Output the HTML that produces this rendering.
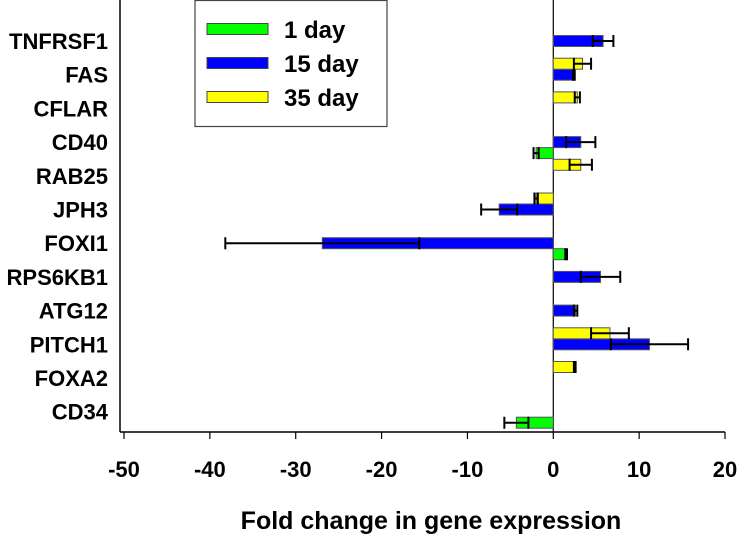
<!DOCTYPE html>
<html><head><meta charset="utf-8"><style>
body{margin:0;background:#fff;}
svg text{font-family:"Liberation Sans",Arial,sans-serif;font-weight:bold;fill:#000;}
</style></head><body>
<svg id="chart" width="738" height="542">
<g id="plot"></g>
</svg>
<script>
const categories=["TNFRSF1","FAS","CFLAR","CD40","RAB25","JPH3","FOXI1","RPS6KB1","ATG12","PITCH1","FOXA2","CD34"];
const seriesNames=["1 day","15 day","35 day"];
const day1=[null,null,null,-2.0,null,null,1.5,null,null,null,null,-4.3];
const day1Err=[0,0,0,0.3,0,0,0.1,0,0,0,0,1.4];
const day15=[5.8,2.4,null,3.2,null,-6.3,-26.9,5.5,2.6,11.2,null,null];
const day15Err=[1.2,0.1,0,1.7,0,2.1,11.3,2.3,0.2,4.5,0,0];
const day35=[null,3.4,2.8,null,3.2,-2.0,null,null,null,6.6,2.5,null];
const day35Err=[0,1.0,0.3,0,1.3,0.2,0,0,0,2.2,0.1,0];
const xTicks=[-50,-40,-30,-20,-10,0,10,20];
const colors=["#00ff00","#0000ff","#ffff00"];
const NS="http://www.w3.org/2000/svg";
const g=document.getElementById('plot');
const x0=124,x1=725,xmin=-50,xmax=20,yTop=0,yBottom=432;
function xs(v){return x0+(v-xmin)/(xmax-xmin)*(x1-x0);}
function yc(i){return 41+i*33.7;}
function mk(t,a){const e=document.createElementNS(NS,t);for(const k in a)e.setAttribute(k,a[k]);g.appendChild(e);return e;}
let e=mk('line',{x1:x0-4,y1:yTop,x2:x0-4,y2:yBottom,stroke:'#000','stroke-width':1.5});


e=mk('line',{x1:x0-4,y1:yBottom,x2:x1,y2:yBottom,stroke:'#000','stroke-width':1.5});


e=mk('line',{x1:xs(0),y1:yTop,x2:xs(0),y2:yBottom,stroke:'#000','stroke-width':1.2});


xTicks.forEach(t=>{
 let l=mk('line',{x1:xs(t),y1:yBottom,x2:xs(t),y2:yBottom+7,stroke:'#000','stroke-width':1.2});
 
 
 let tx=mk('text',{x:xs(t),y:477,'text-anchor':'middle','font-size':22});
 tx.textContent=t;
 
 
});
categories.forEach((c,i)=>{
 let tx=mk('text',{x:108,y:yc(i)+8,'text-anchor':'end','font-size':22});
 tx.textContent=c;
 
 
});
const series=[[day1,day1Err,11],[day15,day15Err,0],[day35,day35Err,-11]];
series.forEach((s,si)=>{
 s[0].forEach((v,i)=>{
  if(v===null)return;
  const cy=yc(i)+s[2];
  const a=xs(Math.min(0,v)),b=xs(Math.max(0,v));
  let r=mk('rect',{x:a,y:cy-5.5,width:b-a,height:11,fill:colors[si],stroke:'#555','stroke-width':1});
  
  
  const err=s[1][i];
  if(err>0){
   const ea=xs(v-err),eb=xs(v+err);
   let el=mk('path',{d:`M${ea},${cy}H${eb}M${ea},${cy-6}V${cy+6}M${eb},${cy-6}V${cy+6}`,stroke:'#000','stroke-width':2,fill:'none'});
   
   
  }
 });
});
let lb=mk('rect',{x:195,y:0.5,width:192,height:126,fill:'#fff',stroke:'#444','stroke-width':1.2});


seriesNames.forEach((n,si)=>{
 const y=29+si*34;
 let s=mk('rect',{x:207,y:y-5.5,width:61,height:11,fill:colors[si],stroke:'#444','stroke-width':1});
 
 
 let t=mk('text',{x:284,y:y+9,'font-size':24});
 t.textContent=n;
 
 
});
let tt=mk('text',{x:431,y:529,'text-anchor':'middle','font-size':25});
tt.textContent='Fold change in gene expression';


</script>
</body></html>
